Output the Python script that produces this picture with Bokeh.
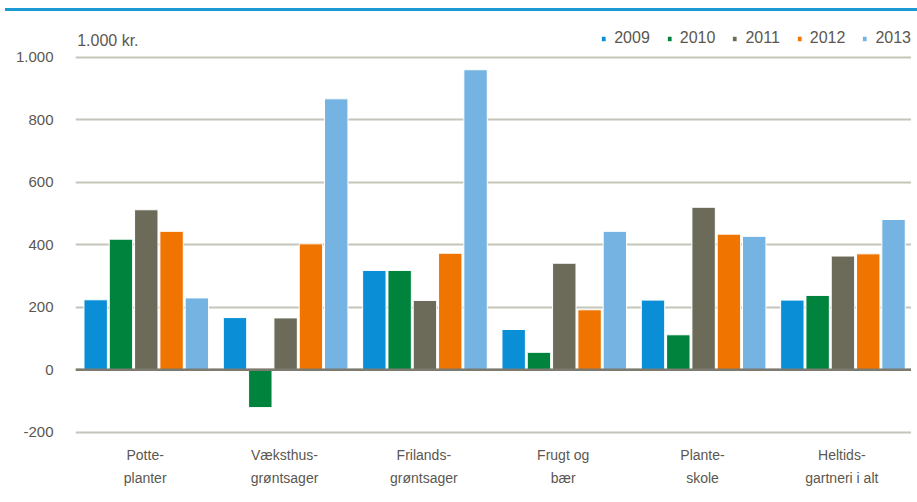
from bokeh.plotting import figure
from bokeh.layouts import column
from bokeh.models import (FactorRange, Range1d, ColumnDataSource, Legend, LegendItem,
                          Span, FixedTicker, Div)
from bokeh.transform import dodge
from bokeh.core.properties import value
from bokeh.embed import file_html
from bokeh.resources import INLINE

categories = ["Potte-\nplanter", "Væksthus-\ngrøntsager", "Frilands-\ngrøntsager",
              "Frugt og\nbær", "Plante-\nskole", "Heltids-\ngartneri i alt"]
years = ["2009", "2010", "2011", "2012", "2013"]
v2009 = [224, 167, 318, 129, 223, 223]
v2010 = [418, -121, 318, 56, 112, 238]
v2011 = [512, 166, 222, 341, 520, 364]
v2012 = [443, 403, 373, 192, 434, 371]
v2013 = [230, 867, 960, 443, 427, 481]
colors = ["#0a8fd6", "#00843d", "#6c6b59", "#ef7500", "#74b3e2"]
yticks = [-200, 0, 200, 400, 600, 800, 1000]
ytick_labels = ["-200", "0", "200", "400", "600", "800", "1.000"]
unit_label = "1.000 kr."

FONT = "Liberation Sans"
TXT = "#5b5750"

src = ColumnDataSource(dict(cat=categories, v2009=v2009, v2010=v2010, v2011=v2011,
                            v2012=v2012, v2013=v2013))

p = figure(width=911, height=491, output_backend="svg", toolbar_location=None,
           x_range=FactorRange(factors=categories, range_padding=0),
           y_range=Range1d(-226.2, 1092),
           min_border_left=75, min_border_right=0, min_border_top=17, min_border_bottom=62)
p.outline_line_color = None
p.background_fill_color = "white"
p.border_fill_color = "white"

offsets = [-0.3632, -0.1816, 0.0, 0.1816, 0.3632]
items = []
for yr, col, off in zip(years, colors, offsets):
    r = p.vbar(x=dodge("cat", off + 0.008, range=p.x_range), top="v" + yr, bottom=0,
               width=0.168, source=src, fill_color=col, line_color="white", line_width=1)
    items.append(LegendItem(label=yr, renderers=[r]))

# zero line
p.add_layout(Span(location=0, dimension="width", line_color="#7d7b70", line_width=2.5))

# grid
p.xgrid.grid_line_color = None
p.ygrid.ticker = FixedTicker(ticks=yticks)
p.ygrid.grid_line_color = "#c6c5b9"
p.ygrid.grid_line_width = 2

# axes
yax = p.yaxis[0]
xax = p.xaxis[0]
yax.ticker = FixedTicker(ticks=yticks)
yax.major_label_overrides = {t: l for t, l in zip(yticks, ytick_labels)}
for ax in (xax, yax):
    ax.axis_line_color = None
    ax.major_tick_line_color = None
    ax.minor_tick_line_color = None
    ax.major_label_text_font = FONT
    ax.major_label_text_color = TXT
yax.major_label_text_font_size = "15px"
xax.major_label_text_font_size = "14px"
xax.major_label_text_line_height = 1.45
yax.major_label_standoff = 16
xax.major_label_standoff = 0

# unit label
p.text(x=[categories[0]], y=[1000], text=[unit_label], x_offset=-68, y_offset=-8,
       text_font=value(FONT), text_font_size="16px", text_color=TXT,
       text_align="left", text_baseline="bottom")

legend = Legend(items=items, orientation="horizontal", location="top_right",
                border_line_color=None, background_fill_alpha=0,
                glyph_width=6, glyph_height=7, spacing=16, label_standoff=8,
                padding=0, margin=0, label_height=20,
                label_text_font=FONT, label_text_font_size="16px", label_text_color=TXT)
p.add_layout(legend)

# top blue rule
rule = Div(text="", width=912, height=3, margin=(8, 0, 0, 5),
           styles={"background-color": "#1b9ad6"})

open("out.html", "w").write(file_html(column(rule, p, spacing=0), INLINE))
